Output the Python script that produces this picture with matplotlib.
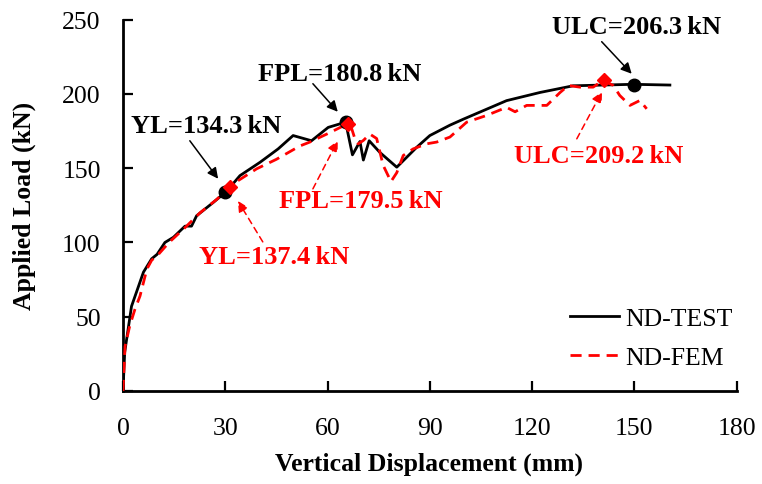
import matplotlib
matplotlib.use('Agg')
import matplotlib.pyplot as plt

plt.rcParams['font.family'] = ['Liberation Serif', 'DejaVu Serif']

# ND-TEST curve (displacement in mm, load in kN)
test_x = [0, 0.5, 2.5, 6, 8.4, 10, 12.3, 14.8, 18.2, 20.1, 21.6, 26.5, 30.4, 34.3,
          40.2, 45.5, 49.9, 55.3, 60.2, 65.3, 67.3, 69.5, 70.5, 72.2, 75.4, 80.3,
          86.1, 90, 95.9, 99.8, 112.5, 122.3, 132, 149.6, 160.4]
test_y = [0, 26, 57, 80, 89, 92, 100, 103.5, 111, 111, 118, 127, 134.5, 145,
          154, 163, 172, 168.5, 177.5, 181, 159, 168, 155.5, 168.5, 160.5, 150.7,
          164, 172, 179, 183, 195.5, 201, 205.5, 206.5, 206]

# ND-FEM curve
fem_x = [0, 0.6, 2, 3.5, 5, 7, 8.4, 10.4, 13.5, 18.2, 22.6, 27.5, 32.3, 39.2, 45,
         51.9, 54.8, 60.7, 65.5, 67.1, 68, 69, 70.5, 72.4, 74.4, 76.3, 78.6, 80.3,
         82.2, 85.1, 89, 92, 95.9, 100.8, 106.6, 112.5, 115, 118.4, 124.3, 128.2,
         130.6, 134, 137.9, 140.8, 143.8, 145.7, 148.7, 151.6, 153.6]
fem_y = [0, 30, 44, 55, 64, 82, 88, 92, 100, 110, 120, 129, 139.5, 149.6, 156,
         165, 167.6, 174, 179.5, 176.5, 170, 166.4, 168.7, 173, 170, 152, 141, 147,
         158.6, 163, 166.4, 167.6, 171, 181, 185.5, 191, 188, 192.3, 192.3, 201,
         205.7, 204.6, 204.6, 209.2, 205.7, 199, 192.3, 195.6, 190]

# key points (YL, FPL, ULC)
test_key_x = [29.9, 65.5, 150]
test_key_y = [134.3, 180.8, 206.3]
fem_key_x = [31.4, 66.1, 141.2]
fem_key_y = [137.4, 179.5, 209.2]
test_labels = ['YL=134.3\u2009kN', 'FPL=180.8\u2009kN', 'ULC=206.3\u2009kN']
fem_labels = ['YL=137.4\u2009kN', 'FPL=179.5\u2009kN', 'ULC=209.2\u2009kN']

fig = plt.figure(figsize=(7.62, 4.85), dpi=100)
ax = fig.add_axes([0.1614, 0.1918, 0.8054, 0.7655])

ax.plot(test_x, test_y, color='black', lw=2, label='ND-TEST', zorder=3)
ax.plot(fem_x, fem_y, color='red', lw=2, ls=(0, (4, 2.5)), label='ND-FEM', zorder=4)
ax.plot(test_key_x, test_key_y, 'o', color='black', ms=9, zorder=5)
ax.plot(fem_key_x, fem_key_y, 'D', color='red', ms=7, zorder=6)

# label positions and arrow tails/heads (data coords)
test_text_pos = [(24.5, 178.6), (63.6, 214), (150.6, 245.3)]
test_arrows = [((19.6, 168.5), (27.9, 142.9)),
               ((55.7, 206.9), (63.0, 188.0)),
               ((140.4, 235.2), (149.2, 213.6))]
fem_text_pos = [(44.3, 90.6), (69.8, 128), (139.6, 158.4)]
fem_arrows = [((41.0, 100.4), (33.7, 128.0)),
              ((55.7, 136.1), (63.0, 168.5)),
              ((133.1, 169.8), (140.5, 201.5))]

for lab, pos, (tail, head) in zip(test_labels, test_text_pos, test_arrows):
    ax.text(pos[0], pos[1], lab, ha='center', va='center', fontsize=19,
            fontweight='bold', color='black')
    ax.annotate('', xy=head, xytext=tail,
                arrowprops=dict(arrowstyle='-|>', color='black', lw=1.1,
                                mutation_scale=16, shrinkA=0, shrinkB=0))

for lab, pos, (tail, head) in zip(fem_labels, fem_text_pos, fem_arrows):
    ax.text(pos[0], pos[1], lab, ha='center', va='center', fontsize=19,
            fontweight='bold', color='red')
    ax.annotate('', xy=head, xytext=tail,
                arrowprops=dict(arrowstyle='-|>', color='red', lw=1.1,
                                linestyle=(0, (4, 3)),
                                mutation_scale=16, shrinkA=0, shrinkB=0))

ax.set_xlim(0, 180)
ax.set_ylim(0, 250)
ax.set_xticks(range(0, 181, 30))
ax.set_yticks(range(0, 251, 50))
ax.spines['top'].set_visible(False)
ax.spines['right'].set_visible(False)
ax.spines['left'].set_linewidth(2)
ax.spines['bottom'].set_linewidth(2)
ax.tick_params(direction='in', length=7, width=1.6, labelsize=18.5)
ax.tick_params(axis='y', pad=16)
ax.tick_params(axis='x', pad=19)

ax.set_xlabel('Vertical Displacement (mm)', fontsize=18.5, fontweight='bold')
ax.set_ylabel('Applied Load (kN)', fontsize=18.5, fontweight='bold')
ax.xaxis.set_label_coords(0.499, -0.163)
ax.yaxis.set_label_coords(-0.141, 0.5)

ax.legend(loc='center left', bbox_to_anchor=(0.728, 0.142), frameon=False,
          fontsize=18.5, handlelength=1.9, handletextpad=0.25,
          labelspacing=0.62, borderpad=0, borderaxespad=0)

plt.savefig('out.png', dpi=100)
